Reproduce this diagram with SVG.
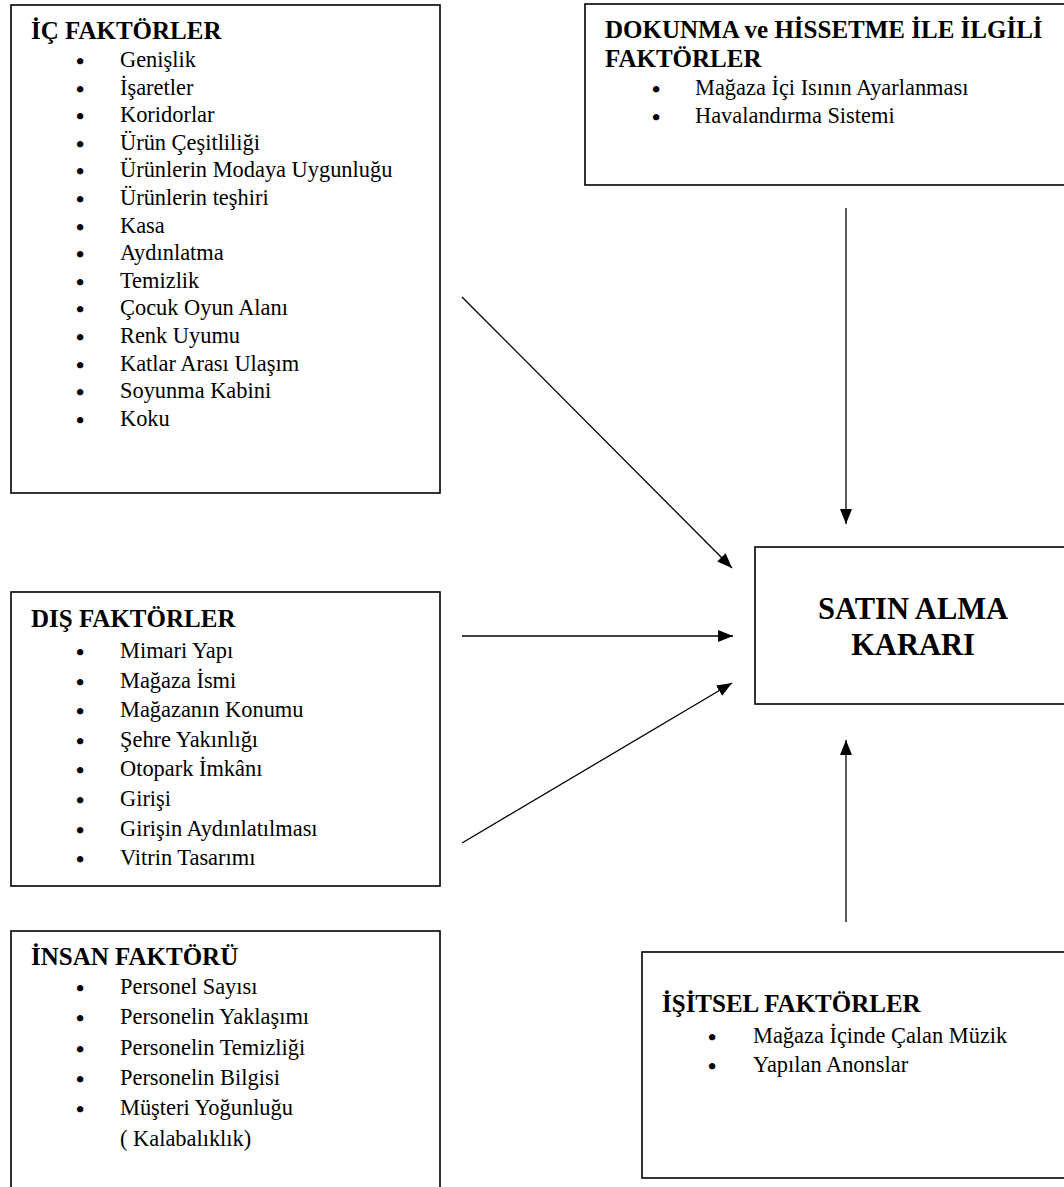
<svg xmlns="http://www.w3.org/2000/svg" width="1064" height="1187" viewBox="0 0 1064 1187">
<style>
.box{fill:#fff;stroke:#000;stroke-width:1.6}
.t{font-family:"Liberation Serif","Times New Roman",serif;font-weight:bold;font-size:25px;fill:#000}
.i{font-family:"Liberation Serif","Times New Roman",serif;font-size:22.4px;fill:#000}
.b{font-family:"Liberation Serif","Times New Roman",serif;font-size:23.5px;font-weight:bold;fill:#000;text-anchor:middle}
.c{font-family:"Liberation Serif","Times New Roman",serif;font-weight:bold;font-size:30.5px;fill:#000;text-anchor:middle}
.ln{stroke:#000;stroke-width:1.3;fill:none;marker-end:url(#ah)}
</style>
<defs>
<marker id="ah" markerUnits="userSpaceOnUse" markerWidth="16" markerHeight="12" refX="15" refY="6" orient="auto">
<path d="M0,0 L15,6 L0,12 z" fill="#000"/>
</marker>
</defs>
<rect width="1064" height="1187" fill="#fff"/>

<g id="ic-faktorler">
<rect class="box" x="11" y="5" width="429" height="488"/>
<text class="t" x="31" y="39">İÇ FAKTÖRLER</text>
<text class="b" x="80" y="69">•</text><text class="i" x="120" y="67">Genişlik</text>
<text class="b" x="80" y="96.6">•</text><text class="i" x="120" y="94.6">İşaretler</text>
<text class="b" x="80" y="124.2">•</text><text class="i" x="120" y="122.2">Koridorlar</text>
<text class="b" x="80" y="151.8">•</text><text class="i" x="120" y="149.8">Ürün Çeşitliliği</text>
<text class="b" x="80" y="179.4">•</text><text class="i" x="120" y="177.4">Ürünlerin Modaya Uygunluğu</text>
<text class="b" x="80" y="207">•</text><text class="i" x="120" y="205">Ürünlerin teşhiri</text>
<text class="b" x="80" y="234.6">•</text><text class="i" x="120" y="232.6">Kasa</text>
<text class="b" x="80" y="262.2">•</text><text class="i" x="120" y="260.2">Aydınlatma</text>
<text class="b" x="80" y="289.8">•</text><text class="i" x="120" y="287.8">Temizlik</text>
<text class="b" x="80" y="317.4">•</text><text class="i" x="120" y="315.4">Çocuk Oyun Alanı</text>
<text class="b" x="80" y="345">•</text><text class="i" x="120" y="343">Renk Uyumu</text>
<text class="b" x="80" y="372.6">•</text><text class="i" x="120" y="370.6">Katlar Arası Ulaşım</text>
<text class="b" x="80" y="400.2">•</text><text class="i" x="120" y="398.2">Soyunma Kabini</text>
<text class="b" x="80" y="427.8">•</text><text class="i" x="120" y="425.8">Koku</text>
</g>

<g id="dokunma-faktorler">
<rect class="box" x="585" y="4" width="490" height="181"/>
<text class="t" x="605" y="38">DOKUNMA ve HİSSETME İLE İLGİLİ</text>
<text class="t" x="605" y="67">FAKTÖRLER</text>
<text class="b" x="656" y="97">•</text><text class="i" x="695" y="95">Mağaza İçi Isının Ayarlanması</text>
<text class="b" x="656" y="124.6">•</text><text class="i" x="695" y="122.6">Havalandırma Sistemi</text>
</g>

<g id="dis-faktorler">
<rect class="box" x="11" y="592" width="429" height="294"/>
<text class="t" x="31" y="627">DIŞ FAKTÖRLER</text>
<text class="b" x="80" y="660">•</text><text class="i" x="120" y="658">Mimari Yapı</text>
<text class="b" x="80" y="689.6">•</text><text class="i" x="120" y="687.6">Mağaza İsmi</text>
<text class="b" x="80" y="719.2">•</text><text class="i" x="120" y="717.2">Mağazanın Konumu</text>
<text class="b" x="80" y="748.8">•</text><text class="i" x="120" y="746.8">Şehre Yakınlığı</text>
<text class="b" x="80" y="778.4">•</text><text class="i" x="120" y="776.4">Otopark İmkânı</text>
<text class="b" x="80" y="808">•</text><text class="i" x="120" y="806">Girişi</text>
<text class="b" x="80" y="837.6">•</text><text class="i" x="120" y="835.6">Girişin Aydınlatılması</text>
<text class="b" x="80" y="867.2">•</text><text class="i" x="120" y="865.2">Vitrin Tasarımı</text>
</g>

<g id="insan-faktoru">
<rect class="box" x="11" y="931" width="429" height="270"/>
<text class="t" x="31" y="965">İNSAN FAKTÖRÜ</text>
<text class="b" x="80" y="996">•</text><text class="i" x="120" y="994">Personel Sayısı</text>
<text class="b" x="80" y="1026.3">•</text><text class="i" x="120" y="1024.3">Personelin Yaklaşımı</text>
<text class="b" x="80" y="1056.6">•</text><text class="i" x="120" y="1054.6">Personelin Temizliği</text>
<text class="b" x="80" y="1086.9">•</text><text class="i" x="120" y="1084.9">Personelin Bilgisi</text>
<text class="b" x="80" y="1117.2">•</text><text class="i" x="120" y="1115.2">Müşteri Yoğunluğu</text>
<text class="i" x="120" y="1145.5">( Kalabalıklık)</text>
</g>

<g id="satin-alma-karari">
<rect class="box" x="755" y="547" width="320" height="157"/>
<text class="c" x="913" y="619">SATIN ALMA</text>
<text class="c" x="913" y="655">KARARI</text>
</g>

<g id="isitsel-faktorler">
<rect class="box" x="642" y="952" width="430" height="226"/>
<text class="t" x="662" y="1012">İŞİTSEL FAKTÖRLER</text>
<text class="b" x="712" y="1045">•</text><text class="i" x="753" y="1043">Mağaza İçinde Çalan Müzik</text>
<text class="b" x="712" y="1074">•</text><text class="i" x="753" y="1072">Yapılan Anonslar</text>
</g>

<g id="connectors">
<line class="ln" x1="462" y1="297" x2="732" y2="568"/>
<line class="ln" x1="462" y1="636" x2="733" y2="636"/>
<line class="ln" x1="462" y1="843" x2="732" y2="683"/>
<line class="ln" x1="846" y1="208" x2="846" y2="524"/>
<line class="ln" x1="846" y1="922" x2="846" y2="740"/>
</g>
</svg>
